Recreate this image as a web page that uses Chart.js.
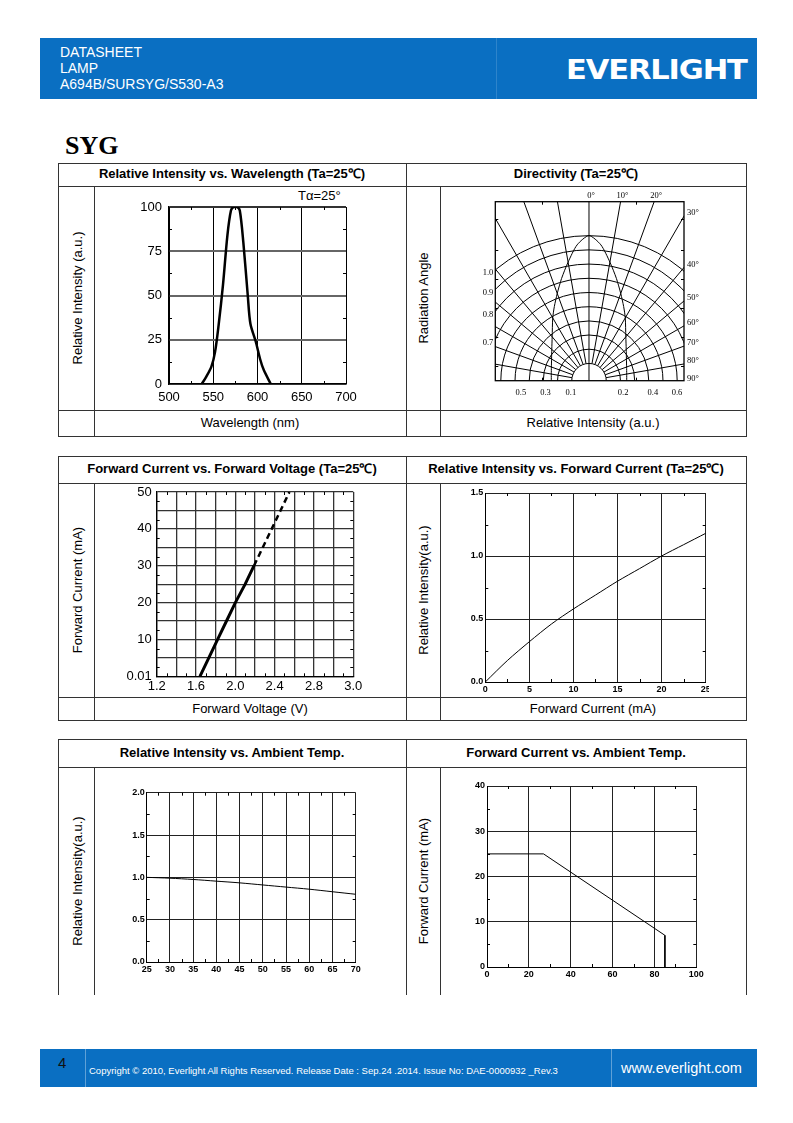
<!DOCTYPE html>
<html>
<head>
<meta charset="utf-8">
<script src="https://cdn.jsdelivr.net/npm/chart.js@4.4.1/dist/chart.umd.min.js"></script>
<style>
body { margin: 0; background: #fff; }
#page { position: relative; width: 793px; height: 1123px; overflow: hidden; font-family: "Liberation Sans", Arial, sans-serif; color: #000; }
.band { position: absolute; background: #0a6fc2; }
.wt { position: absolute; color: #fff; white-space: nowrap; }
.hl { position: absolute; height: 1px; background: #333; z-index: 2; }
.vl { position: absolute; width: 1px; background: #333; z-index: 2; }
.ttl { position: absolute; font-weight: bold; font-size: 13px; text-align: center; line-height: 16px; white-space: nowrap; }
.xl { position: absolute; font-size: 13px; text-align: center; line-height: 16px; white-space: nowrap; }
.yl { position: absolute; font-size: 13px; white-space: nowrap; transform: translate(-50%, -50%) rotate(-90deg); }
canvas { position: absolute; }
</style>
</head>
<body>
<div id="page">
  <!-- header -->
  <div class="band" style="left:40px;top:38px;width:717px;height:61px;"></div>
  <div style="position:absolute;left:496px;top:38px;width:1px;height:61px;background:rgba(255,255,255,0.15);"></div>
  <div class="wt" style="left:60px;top:44px;font-size:14px;line-height:16px;">DATASHEET<br>LAMP<br>A694B/SURSYG/S530-A3</div>
  <div class="wt" style="left:566px;top:55px;font-family:'DejaVu Sans';font-weight:bold;font-size:27px;line-height:30px;letter-spacing:-1px;transform-origin:0 0;transform:scaleX(1.13);">EVERLIGHT</div>

  <div style="position:absolute;left:65px;top:131px;font-family:'Liberation Serif','Times New Roman',serif;font-weight:bold;font-size:26px;line-height:30px;">SYG</div>

  <!-- section 1 -->
  <div class="ttl" style="left:58px;width:348px;top:166px;">Relative Intensity vs. Wavelength (Ta=25℃)</div>
  <div class="ttl" style="left:406px;width:340px;top:166px;">Directivity (Ta=25℃)</div>
  <div class="yl" style="left:77px;top:298px;">Relative Intensity (a.u.)</div>
  <div class="yl" style="left:423px;top:298px;">Radiation Angle</div>
  <div class="xl" style="left:94px;width:312px;top:415px;">Wavelength (nm)</div>
  <div class="xl" style="left:440px;width:306px;top:415px;">Relative Intensity (a.u.)</div>
  <div style="position:absolute;left:298px;top:189px;font-size:13px;line-height:14px;">Tα=25°</div>

  <!-- section 2 -->
  <div class="ttl" style="left:58px;width:348px;top:461px;">Forward Current vs. Forward Voltage (Ta=25℃)</div>
  <div class="ttl" style="left:406px;width:340px;top:461px;">Relative Intensity vs. Forward Current (Ta=25℃)</div>
  <div class="yl" style="left:77px;top:590px;">Forward Current (mA)</div>
  <div class="yl" style="left:423px;top:590px;">Relative Intensity(a.u.)</div>
  <div class="xl" style="left:94px;width:312px;top:701px;">Forward Voltage (V)</div>
  <div class="xl" style="left:440px;width:306px;top:701px;">Forward Current (mA)</div>

  <!-- section 3 -->
  <div class="ttl" style="left:58px;width:348px;top:745px;">Relative Intensity vs. Ambient Temp.</div>
  <div class="ttl" style="left:406px;width:340px;top:745px;">Forward Current vs. Ambient Temp.</div>
  <div class="yl" style="left:77px;top:881px;">Relative Intensity(a.u.)</div>
  <div class="yl" style="left:423px;top:881px;">Forward Current (mA)</div>

  <canvas id="cSpectrum" width="311" height="224" style="left:95px;top:186px;"></canvas>
  <canvas id="cPolar" width="306" height="224" style="left:440px;top:186px;"></canvas>
  <canvas id="cIV" width="311" height="214" style="left:95px;top:483px;"></canvas>
  <canvas id="cIF" width="269" height="214" style="left:440px;top:483px;"></canvas>
  <canvas id="cTa" width="311" height="228" style="left:95px;top:767px;"></canvas>
  <canvas id="cDerate" width="306" height="228" style="left:440px;top:767px;"></canvas>

  <!-- footer -->
  <div class="band" style="left:40px;top:1049px;width:717px;height:38px;"></div>
  <div style="position:absolute;left:85px;top:1049px;width:1px;height:38px;background:rgba(255,255,255,0.35);"></div>
  <div style="position:absolute;left:611px;top:1049px;width:1px;height:38px;background:rgba(255,255,255,0.35);"></div>
  <div class="wt" style="left:58px;top:1054px;font-size:15px;line-height:17px;color:#111;">4</div>
  <div class="wt" style="left:89px;top:1065px;font-size:9.5px;line-height:11px;">Copyright © 2010, Everlight All Rights Reserved. Release Date : Sep.24 .2014. Issue No: DAE-0000932 _Rev.3</div>
  <div class="wt" style="left:621px;top:1060px;font-size:14.5px;line-height:17px;">www.everlight.com</div>
</div>

<script>
// Relative intensity vs wavelength
const wavelengthNm = [537, 542, 548, 552, 556, 561, 566, 570, 573, 577, 580, 584, 589, 592, 598, 603, 607, 615];
const spectrumIntensity = [0, 4, 10, 18, 33, 56, 84, 98, 100, 100, 98, 80, 50, 34, 24, 14, 8, 0];
const wavelengthTicks = [500, 550, 600, 650, 700];
const spectrumTicks = [0, 25, 50, 75, 100];

// Directivity (angle in degrees, relative intensity)
const dirAngles = [-90, -80, -70, -60, -50, -40, -30, -25, -20, -15, -10, -5, 0, 5, 10, 15, 20, 25, 30, 40, 50, 60, 70, 80, 90];
const dirIntensity = [0.26, 0.264, 0.276, 0.298, 0.335, 0.395, 0.5, 0.565, 0.64, 0.73, 0.83, 0.94, 1.0, 0.94, 0.83, 0.73, 0.64, 0.565, 0.5, 0.395, 0.335, 0.298, 0.276, 0.264, 0.26];
const ringRadii = [0.119, 0.217, 0.315, 0.412, 0.51, 0.608, 0.706, 0.804, 0.902, 1.0];
const gridAngles = [-80, -70, -60, -50, -40, -30, -20, -10, 0, 10, 20, 30, 40, 50, 60, 70, 80];
const angleLabelDeg = [0, 10, 20, 30, 40, 50, 60, 70, 80, 90];
const ringLabels = ['1.0', '0.9', '0.8', '0.7'];
const ringLabelRadii = [1.0, 0.902, 0.804, 0.706];
const bottomLabels = ['0.5', '0.3', '0.1', '0.2', '0.4', '0.6'];
const bottomLabelPos = [-0.47, -0.30, -0.125, 0.235, 0.44, 0.607];

// Forward current vs forward voltage
const fvVoltSolid = [1.64, 1.73, 1.82, 1.91, 2.00, 2.10, 2.19];
const fvCurrentSolid = [0, 5, 10, 15, 20, 25, 30];
const fvVoltDashed = [2.19, 2.28, 2.37, 2.46, 2.55];
const fvCurrentDashed = [30, 35, 40, 45, 50];
const fvVoltTickLabels = ['1.2', '', '1.6', '', '2.0', '', '2.4', '', '2.8', '', '3.0'];
const fvCurrentTickLabels = ['0.01', '', '10', '', '20', '', '30', '', '40', '', '50'];

// Relative intensity vs forward current
const ifCurrent = [0, 2.5, 5, 7.5, 10, 12.5, 15, 17.5, 20, 22.5, 25];
const ifIntensity = [0, 0.17, 0.32, 0.46, 0.58, 0.69, 0.80, 0.90, 1.0, 1.09, 1.18];

// Relative intensity vs ambient temp
const taTemp = [25, 30, 35, 40, 45, 50, 55, 60, 65, 70];
const taIntensity = [1.0, 0.99, 0.975, 0.955, 0.935, 0.91, 0.885, 0.86, 0.83, 0.80];

// Forward current derating
const derateTemp = [0, 27, 85, 85];
const derateCurrent = [25, 25, 7, 0];

// --- table lines ---
const page = document.getElementById('page');
function hline(x1, x2, y) {
    const d = document.createElement('div');
    d.className = 'hl';
    d.style.cssText = `left:${x1}px;top:${y}px;width:${x2 - x1 + 1}px;`;
    page.appendChild(d);
}
function vline(x, y1, y2) {
    const d = document.createElement('div');
    d.className = 'vl';
    d.style.cssText = `left:${x}px;top:${y1}px;height:${y2 - y1}px;`;
    page.appendChild(d);
}
[[163, 186, 410, 436], [456, 483, 697, 720]].forEach(([t, h, c, b]) => {
    [t, h, c, b].forEach(y => hline(58, 746, y));
    [58, 406, 746].forEach(x => vline(x, t, b));
    [94, 440].forEach(x => vline(x, h, b));
});
[739, 767].forEach(y => hline(58, 746, y));
[58, 406, 746].forEach(x => vline(x, 739, 995));
[94, 440].forEach(x => vline(x, 767, 995));

// --- chart helpers ---
const fixY = w => s => { s.width = w; s.paddingTop = 0; s.paddingBottom = 0; };
const fixX = h => s => { s.height = h; s.paddingLeft = 0; s.paddingRight = 0; };
const pts = (xs, ys) => xs.map((x, i) => ({ x, y: ys[i] }));

function baseOptions(pad) {
    return {
        responsive: false, maintainAspectRatio: false, animation: false, events: [],
        layout: { padding: pad },
        plugins: { legend: { display: false }, tooltip: { enabled: false } }
    };
}

// small inward ticks on the plot frame, half way between major lines
const minorTicks = {
    id: 'minorTicks',
    afterDraw(chart) {
        if (!chart.options.plugins.minorTicks) return;
        const { ctx, chartArea: a, scales: { x, y } } = chart;
        ctx.save();
        ctx.strokeStyle = '#000';
        ctx.lineWidth = 1;
        ctx.beginPath();
        for (let i = 0; i < x.ticks.length - 1; i++) {
            const px = Math.round((x.getPixelForValue(x.ticks[i].value) + x.getPixelForValue(x.ticks[i + 1].value)) / 2) + 0.5;
            ctx.moveTo(px, a.top); ctx.lineTo(px, a.top + 3);
            ctx.moveTo(px, a.bottom); ctx.lineTo(px, a.bottom - 3);
        }
        for (let i = 0; i < y.ticks.length - 1; i++) {
            const py = Math.round((y.getPixelForValue(y.ticks[i].value) + y.getPixelForValue(y.ticks[i + 1].value)) / 2) + 0.5;
            ctx.moveTo(a.left, py); ctx.lineTo(a.left + 3, py);
            ctx.moveTo(a.right, py); ctx.lineTo(a.right - 3, py);
        }
        ctx.stroke();
        ctx.restore();
    }
};
Chart.register(minorTicks);

const pixFont = { family: 'Liberation Sans', size: 13 };
const boldSmall = { family: 'Liberation Sans', size: 9, weight: 'bold' };

// --- Relative Intensity vs Wavelength ---
new Chart(document.getElementById('cSpectrum'), {
    type: 'scatter',
    data: { datasets: [{ data: pts(wavelengthNm, spectrumIntensity), showLine: true, borderColor: '#000', borderWidth: 2.5, pointRadius: 0, tension: 0.3 }] },
    options: Object.assign(baseOptions({ left: 34, right: 60, top: 21, bottom: 4 }), {
        scales: {
            x: {
                type: 'linear', min: 500, max: 700,
                afterBuildTicks: s => { s.ticks = wavelengthTicks.map(v => ({ value: v })); },
                afterFit: fixX(22),
                ticks: { font: pixFont, color: '#000', padding: 6, maxRotation: 0, autoSkip: false },
                grid: { drawTicks: false, color: '#000', lineWidth: 1 },
                border: { color: '#000', width: 1.5 }
            },
            y: {
                type: 'linear', min: 0, max: 100,
                afterBuildTicks: s => { s.ticks = spectrumTicks.map(v => ({ value: v })); },
                afterFit: fixY(40),
                ticks: { font: pixFont, color: '#000', padding: 7 },
                grid: { drawTicks: false, color: c => (c.tick && c.tick.value === 100) ? '#333' : '#666', lineWidth: 2 },
                border: { color: '#000', width: 1.5 }
            }
        }
    })
});

// --- Directivity ---
const polarGrid = {
    id: 'polarGrid',
    beforeDatasetsDraw(chart) {
        const { ctx, chartArea: a, scales: { x, y } } = chart;
        const cx = x.getPixelForValue(0), cy = y.getPixelForValue(0);
        const unit = x.getPixelForValue(1) - cx;
        const rad = d => d * Math.PI / 180;
        ctx.save();
        ctx.beginPath();
        ctx.rect(a.left, a.top, a.right - a.left, a.bottom - a.top);
        ctx.clip();
        ctx.strokeStyle = '#000';
        ctx.lineWidth = 1;
        ringRadii.forEach(r => {
            ctx.beginPath();
            ctx.arc(cx, cy, r * unit, Math.PI, 2 * Math.PI);
            ctx.stroke();
        });
        gridAngles.forEach(d => {
            const t = rad(d);
            const r0 = d === 0 ? 0 : ringRadii[0];
            ctx.beginPath();
            ctx.moveTo(cx + r0 * unit * Math.sin(t), cy - r0 * unit * Math.cos(t));
            ctx.lineTo(cx + 3 * unit * Math.sin(t), cy - 3 * unit * Math.cos(t));
            ctx.stroke();
        });
        ctx.restore();

        ctx.save();
        ctx.strokeStyle = '#000';
        ctx.lineWidth = 1.3;
        ctx.strokeRect(a.left, a.top, a.right - a.left, a.bottom - a.top);
        ctx.fillStyle = '#000';
        ctx.font = '8.5px "Liberation Serif"';
        angleLabelDeg.forEach(d => {
            const t = rad(d);
            const txt = d + '°';
            if (d < 30) {
                ctx.textAlign = 'center'; ctx.textBaseline = 'bottom';
                ctx.fillText(txt, cx + Math.tan(t) * (cy - a.top) + 2, a.top - 2);
            } else {
                ctx.textAlign = 'left'; ctx.textBaseline = 'middle';
                const py = d === 90 ? cy - 2 : cy - (a.right - cx) / Math.tan(t) - 3;
                ctx.fillText(txt, a.right + 3, py);
            }
        });
        const xl = (cx - a.left) / unit;
        ctx.textAlign = 'right'; ctx.textBaseline = 'middle';
        ringLabels.forEach((lab, i) => {
            const r = ringLabelRadii[i];
            ctx.fillText(lab, a.left - 2, cy - Math.sqrt(r * r - xl * xl) * unit + 3);
        });
        ctx.textAlign = 'center'; ctx.textBaseline = 'top';
        bottomLabels.forEach((lab, i) => ctx.fillText(lab, x.getPixelForValue(bottomLabelPos[i]), a.bottom + 8));
        ctx.restore();
    }
};
new Chart(document.getElementById('cPolar'), {
    type: 'scatter',
    data: {
        datasets: [{
            data: dirAngles.map((d, i) => ({ x: dirIntensity[i] * Math.sin(d * Math.PI / 180), y: dirIntensity[i] * Math.cos(d * Math.PI / 180) })),
            showLine: true, borderColor: '#000', borderWidth: 1, pointRadius: 0, tension: 0.25
        }]
    },
    options: Object.assign(baseOptions({ left: 55.3, right: 62, top: 15.7, bottom: 29.3 }), {
        scales: {
            x: { type: 'linear', min: -0.646, max: 0.655, display: false },
            y: { type: 'linear', min: 0, max: 1.234, display: false }
        }
    }),
    plugins: [polarGrid]
});

// --- Forward Current vs Forward Voltage ---
const gridDark = { drawTicks: false, color: '#333', lineWidth: 1.3 };
new Chart(document.getElementById('cIV'), {
    type: 'scatter',
    data: {
        datasets: [
            { data: pts(fvVoltSolid, fvCurrentSolid), showLine: true, borderColor: '#000', borderWidth: 3, pointRadius: 0 },
            { data: pts(fvVoltDashed, fvCurrentDashed), showLine: true, borderColor: '#000', borderWidth: 2.5, borderDash: [6, 4], pointRadius: 0 }
        ]
    },
    options: Object.assign(baseOptions({ left: 21.7, right: 52.7, top: 9, bottom: 2.7 }), {
        scales: {
            x: {
                type: 'linear', min: 1.2, max: 3.2,
                afterFit: fixX(18),
                ticks: { stepSize: 0.2, font: pixFont, color: '#000', padding: 2, maxRotation: 0, autoSkip: false, callback: (v, i) => fvVoltTickLabels[i] },
                grid: gridDark, border: { color: '#000', width: 1.3 }
            },
            y: {
                type: 'linear', min: 0, max: 50,
                afterFit: fixY(40),
                ticks: { stepSize: 5, font: pixFont, color: '#000', padding: 5, autoSkip: false, callback: (v, i) => fvCurrentTickLabels[i] },
                grid: gridDark, border: { color: '#000', width: 1.3 }
            }
        }
    })
});

// --- shared style for the three small-font charts ---
const gridThin = { drawTicks: false, color: '#222', lineWidth: 1 };
function smallScales(xmin, xmax, xstep, ymin, ymax, ystep, yfmt) {
    return {
        x: {
            type: 'linear', min: xmin, max: xmax,
            afterFit: fixX(13),
            ticks: { stepSize: xstep, font: boldSmall, color: '#000', padding: 2, maxRotation: 0, autoSkip: false },
            grid: gridThin, border: { color: '#000', width: 1 }
        },
        y: {
            type: 'linear', min: ymin, max: ymax,
            afterFit: fixY(30),
            ticks: { stepSize: ystep, font: boldSmall, color: '#000', padding: 2, autoSkip: false, callback: yfmt },
            grid: gridThin, border: { color: '#000', width: 1 }
        }
    };
}
function smallOptions(pad, scales) {
    const o = baseOptions(pad);
    o.plugins.minorTicks = true;
    o.scales = scales;
    return o;
}

// --- Relative Intensity vs Forward Current ---
new Chart(document.getElementById('cIF'), {
    type: 'scatter',
    data: { datasets: [{ data: pts(ifCurrent, ifIntensity), showLine: true, borderColor: '#000', borderWidth: 1, pointRadius: 0, tension: 0.3 }] },
    options: smallOptions({ left: 15.3, right: 3.3, top: 10, bottom: 2 }, smallScales(0, 25, 5, 0, 1.5, 0.5, v => v.toFixed(1)))
});

// --- Relative Intensity vs Ambient Temp ---
new Chart(document.getElementById('cTa'), {
    type: 'scatter',
    data: { datasets: [{ data: pts(taTemp, taIntensity), showLine: true, borderColor: '#000', borderWidth: 1, pointRadius: 0, tension: 0.3 }] },
    options: smallOptions({ left: 21.7, right: 50.3, top: 25.7, bottom: 20 }, smallScales(25, 70, 5, 0, 2, 0.5, v => v.toFixed(1)))
});

// --- Forward Current vs Ambient Temp ---
new Chart(document.getElementById('cDerate'), {
    type: 'scatter',
    data: { datasets: [{ data: pts(derateTemp, derateCurrent), showLine: true, borderColor: '#000', borderWidth: 1, pointRadius: 0 }] },
    options: smallOptions({ left: 17, right: 49.7, top: 19, bottom: 15 }, smallScales(0, 100, 20, 0, 40, 10, v => v))
});
</script>
</body>
</html>
